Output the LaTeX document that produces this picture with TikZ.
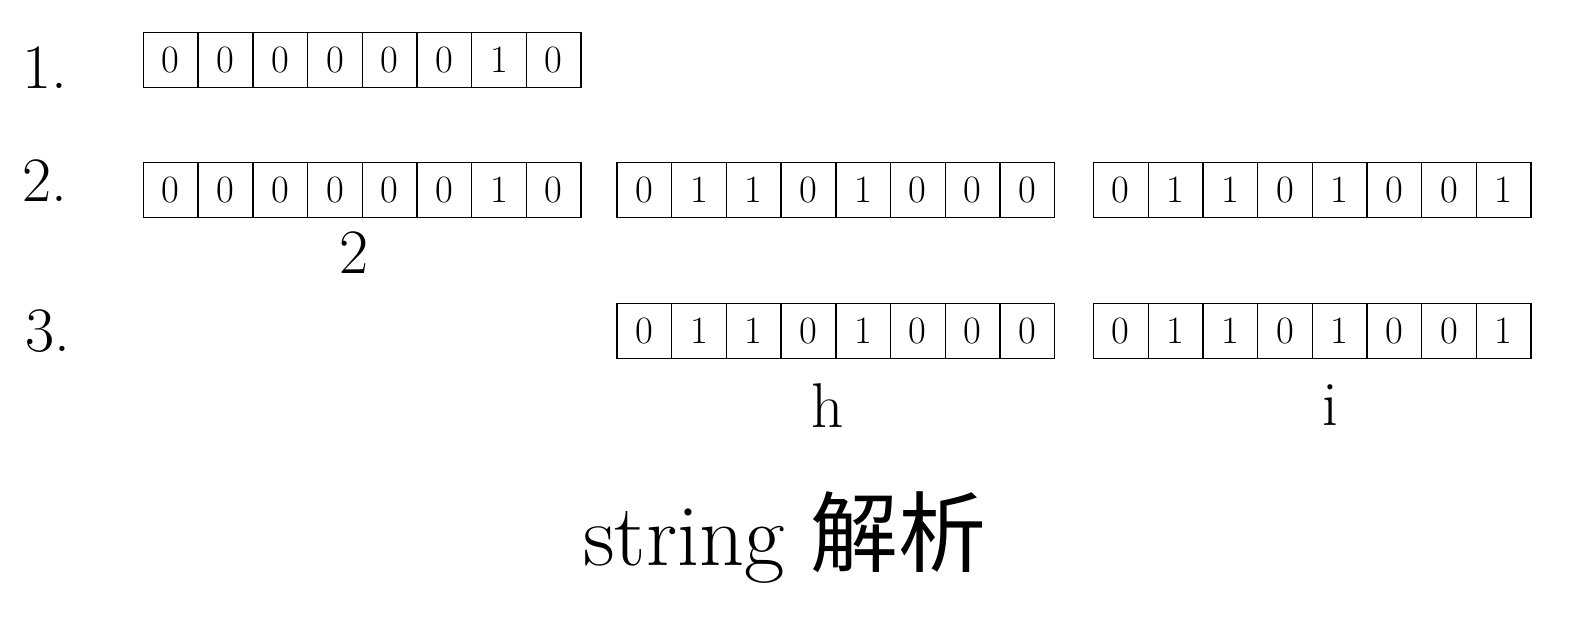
\documentclass[tikz,border=0pt]{standalone}
\usepackage{fontspec}
\newfontfamily\cjk{Noto Sans CJK SC}

\tikzset{
  bitcell/.style={draw, line width=0.8pt, minimum width=1.094cm,
    minimum height=1.09cm, inner sep=0pt, font=\fontsize{22}{26}\selectfont},
  stepnum/.style={font=\fontsize{36}{40}\selectfont},
  charlabel/.style={font=\fontsize{36}{40}\selectfont},
}

% one byte: name, left edge, centre height, bits
\newcommand{\byterow}[4]{
  \foreach \b [count=\i] in {#4} {
    \node[bitcell] (#1-\i) at ({#2 + (\i-0.5)*1.094}, #3) {\b};
  }
}

\begin{document}
\begin{tikzpicture}
    \useasboundingbox (0, 0) rectangle (31.52, -12.32);

    % step 1
    \node[stepnum] (one) at (0.9, -1.36) {1.};
    \byterow{ba}{2.87}{-1.2}{0,0,0,0,0,0,1,0}

    % step 2
    \node[stepnum] (two) at (0.9, -3.62) {2.};
    \byterow{bb}{2.87}{-3.8}{0,0,0,0,0,0,1,0}
    \byterow{bc}{12.34}{-3.8}{0,1,1,0,1,0,0,0}
    \byterow{bd}{21.87}{-3.8}{0,1,1,0,1,0,0,1}
    \node[charlabel] (ltwo) at (7.08, -5.06) {2};

    % step 3
    \node[stepnum] (three) at (0.95, -6.62) {3.};
    \byterow{be}{12.34}{-6.62}{0,1,1,0,1,0,0,0}
    \byterow{bf}{21.87}{-6.62}{0,1,1,0,1,0,0,1}
    \node[charlabel] (lh) at (16.56, -8.12) {h};
    \node[charlabel] (li) at (26.6, -8.1) {i};

    \node[font=\fontsize{50}{56}\selectfont] (title) at (15.7, -10.75)
      {string {\cjk 解析}};
\end{tikzpicture}
\end{document}
